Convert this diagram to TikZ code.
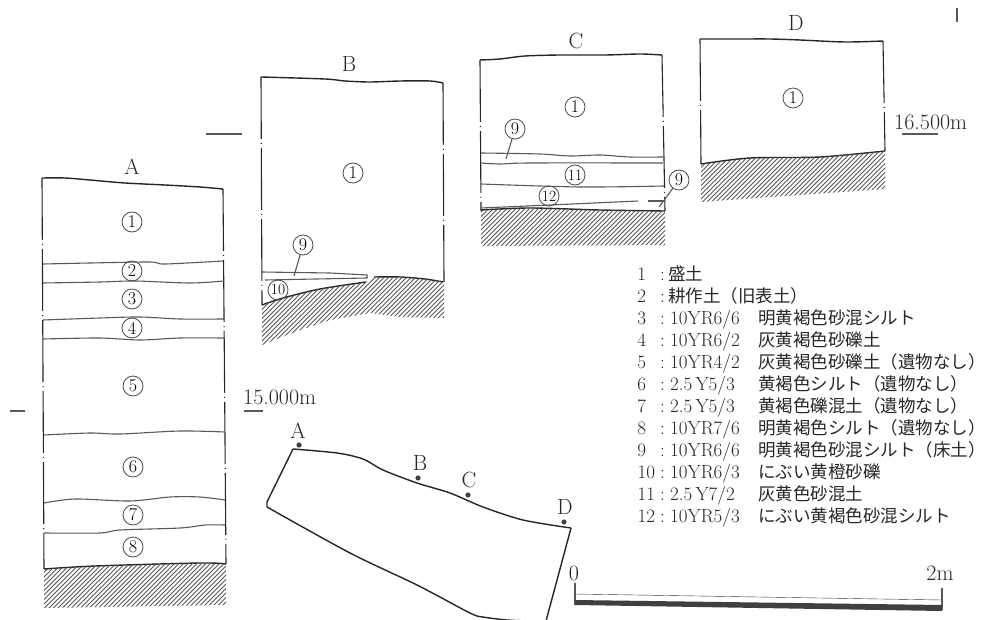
\documentclass[tikz,border=0pt]{standalone}
\usepackage{fontspec}
\usepackage{tikz}
\usetikzlibrary{shapes,positioning,calc}
\newfontfamily\cjk{Noto Sans CJK JP}
\tikzset{
	sideline/.style={black!85,line width=1.1pt,dash pattern=on 62pt off 4pt on 1pt off 4pt},
	groundline/.style={black!85,line width=1.4pt},
	layerline/.style={black!65,line width=1.1pt},
	hatchline/.style={black!65,line width=.8pt},
	layernum/.style={draw=black!70,circle,line width=.8pt,inner sep=0pt,minimum size=20pt,font=\fontsize{18}{18}\selectfont},
	widenum/.style={layernum,font=\fontsize{15.5}{15.5}\selectfont},
	sitelabel/.style={font=\fontsize{22}{22}\selectfont,inner sep=0pt,text=black!85},
	legendtext/.style={font=\fontsize{19}{20}\selectfont,inner sep=0pt,text=black!85}
}
\newcommand{\hatcharea}[1]{
	\begin{scope}
		\clip #1;
		\foreach \h in {0,4.5,...,1300}
			\draw[hatchline] (\h,0) -- (\h-650,650);
	\end{scope}
}
\begin{document}
\begin{tikzpicture}[x=1pt,y=-1pt]
		\useasboundingbox (0,0) rectangle (987,620);

		\draw[sideline] (42,178) -- (44,569);
		\draw[sideline] (223,189) -- (226,564);
		\draw[groundline] plot[smooth] coordinates {(42,178) (65,178) (90,180) (125,183) (165,185) (200,187) (223,189)};
		\draw[layerline] plot[smooth] coordinates {(43,264) (90,263) (150,262) (165,264) (223,261)};
		\draw[layerline] plot[smooth] coordinates {(43,283) (100,282) (135,281) (190,283) (224,281)};
		\draw[layerline] plot[smooth] coordinates {(43,320) (100,318) (140,317) (180,319) (224,319)};
		\draw[layerline] plot[smooth] coordinates {(43,339) (100,338) (140,340) (180,338) (224,338)};
		\draw[layerline] plot[smooth] coordinates {(44,435) (90,433) (120,434) (180,431) (225,432)};
		\draw[layerline] plot[smooth] coordinates {(44,503) (75,499) (130,501) (170,497) (200,497) (225,500)};
		\draw[layerline] plot[smooth] coordinates {(44,533) (100,533) (120,530) (180,528) (205,525) (225,525)};
		\draw[groundline] plot[smooth] coordinates {(44,569) (95,566) (200,563) (226,564)};
		\hatcharea{(44,569) -- (95,566) -- (200,563) -- (226,564) -- (226,605) -- (44,608) -- cycle}

		\node[sitelabel] (siteA) at (132,167) {A};
		\node[layernum] (a1) at (132,222) {1};
		\node[layernum] (a2) at (132,271) {2};
		\node[layernum] (a3) at (132,299) {3};
		\node[layernum] (a4) at (132,328) {4};
		\node[layernum] (a5) at (133,386) {5};
		\node[layernum] (a6) at (133,467) {6};
		\node[layernum] (a7) at (133,515) {7};
		\node[layernum] (a8) at (133,547) {8};

		\draw[sideline] (261,77) -- (262,305);
		\draw[sideline] (443,83) -- (444,282);
		\draw[groundline] plot[smooth] coordinates {(261,77) (325,79) (345,81) (370,82) (400,81) (430,81) (443,83)};
		\draw[layerline] (262,272) -- (330,273) -- (367,275) -- (367,278) -- (265,280);
		\draw[groundline] plot[smooth] coordinates {(262,305) (283,298) (320,289) (366,282)};
		\draw[groundline] plot[smooth] coordinates {(374,277) (400,277) (425,279) (443,282)};
		\hatcharea{(262,305) -- (283,298) -- (320,289) -- (366,282) -- (374,277) -- (400,277) -- (425,279) -- (444,282) -- (444,318) -- (400,317) -- (370,313) -- (330,320) -- (300,330) -- (262,345) -- cycle}

		\node[sitelabel] (siteB) at (349,64) {B};
		\node[layernum] (b1) at (353,173) {1};
		\node[layernum] (b9) at (303,245) {9};
		\node[widenum] (b10) at (278,290) {10};
		\coordinate (b9end) at (294,276);
		\draw[layerline] (b9) -- (b9end);

		\draw[sideline] (480,60) -- (481,211);
		\draw[sideline] (662,55) -- (665,211);
		\draw[groundline] plot[smooth] coordinates {(480,60) (500,59) (525,56) (560,55) (605,55) (640,54) (662,55)};
		\draw[layerline] plot[smooth] coordinates {(481,153) (540,154) (570,156) (600,155) (630,157) (663,157)};
		\draw[layerline] plot[smooth] coordinates {(481,163) (500,164) (530,163) (663,163)};
		\draw[layerline] plot[smooth] coordinates {(481,184) (580,187) (664,186)};
		\draw[layerline] plot[smooth] coordinates {(481,208) (550,205) (638,201)};
		\draw[layerline] (648,201) -- (665,201);
		\draw[groundline] plot[smooth] coordinates {(481,210) (530,208) (600,210) (665,211)};
		\hatcharea{(481,210) -- (530,208) -- (600,210) -- (665,211) -- (665,245) -- (481,246) -- cycle}

		\node[sitelabel] (siteC) at (576,41) {C};
		\node[layernum] (c1) at (575,107) {1};
		\node[layernum] (c9) at (515,129) {9};
		\node[widenum] (c11) at (575,175) {11};
		\node[widenum] (c12) at (549,196) {12};
		\node[layernum] (cc9) at (679,180) {9};
		\coordinate (c9end) at (506,159);
		\coordinate (cc9end) at (659,207);
		\draw[layerline] (c9) -- (c9end);
		\draw[layerline] (cc9) -- (cc9end);

		\draw[sideline] (700,39) -- (701,164);
		\draw[sideline] (883,41) -- (885,151);
		\draw[groundline] plot[smooth] coordinates {(700,39) (740,39) (770,39) (800,40) (845,42) (883,41)};
		\draw[groundline] plot[smooth] coordinates {(701,164) (750,158) (820,157) (885,151)};
		\hatcharea{(701,164) -- (750,158) -- (820,157) -- (885,151) -- (885,189) -- (701,202) -- cycle}

		\node[sitelabel] (siteD) at (796,23) {D};
		\node[layernum] (d1) at (793,98) {1};

		\node[sitelabel,anchor=base west] (levelhigh) at (894,130) {16.500m};
		\node[sitelabel,anchor=base west] (levellow) at (243,404) {15.000m};
		\draw[layerline] (902,134) -- (938,134);
		\draw[layerline] (244,411) -- (263,411);
		\draw[layerline] (10,411) -- (25,411);
		\draw[layerline] (206,134) -- (242,134);
		\draw[layerline] (957,8) -- (957,22);

		\draw[groundline] plot[smooth] coordinates {(293,449) (337,453) (363,459) (383,470) (417,483) (450,493) (483,507) (523,520) (571,528)};
		\draw[groundline] (571,528) -- (546,621);
		\draw[groundline] plot[smooth] coordinates {(267,507) (350,553) (417,585) (470,613) (483,617) (507,620) (530,621)};
		\draw[groundline,line join=round] (293,449) -- (267,502) -- (267,507);
		\foreach \name/\dotx/\doty/\labx/\laby in {A/299/445/298/431,B/418/478/420/463,C/468/495/469/480,D/564/522/565/507} {
			\node[sitelabel] (plan\name) at (\labx,\laby) {\name};
			\fill[black!75] (\dotx,\doty) circle (2.6pt);
		}

		\node[sitelabel] (zero) at (574,573) {0};
		\node[sitelabel] (twom) at (940,573) {2m};
		\draw[layerline] (575,583) -- (575,605);
		\draw[layerline] (942,588) -- (942,610);
		\draw[black!80] (575,594) -- (942,600);
		\fill[black!75] (575,600) -- (942,605) -- (942,611) -- (575,605) -- cycle;

		\foreach \num/\code/\soil [count=\i] in {
			1//盛土,
			2//耕作土（旧表土）,
			3/10YR6\slash 6/明黄褐色砂混シルト,
			4/10YR6\slash 2/灰黄褐色砂礫土,
			5/10YR4\slash 2/灰黄褐色砂礫土（遺物なし）,
			6/2.5\,Y5\slash 3/黄褐色シルト（遺物なし）,
			7/2.5\,Y5\slash 3/黄褐色礫混土（遺物なし）,
			8/10YR7\slash 6/明黄褐色シルト（遺物なし）,
			9/10YR6\slash 6/明黄褐色砂混シルト（床土）,
			10/10YR6\slash 3/にぶい黄橙砂礫,
			11/2.5\,Y7\slash 2/灰黄色砂混土,
			12/10YR5\slash 3/にぶい黄褐色砂混シルト} {
			\pgfmathsetmacro{\rowy}{280+22*(\i-1)}
			\ifnum\i<10 \def\numgap{14pt}\else\def\numgap{5pt}\fi
			\node[legendtext,anchor=base east] (num\i) at (665,\rowy) {\num\hspace{\numgap}:};
			\ifnum\i<3
				\node[legendtext,anchor=base west] (soil\i) at (668,\rowy) {\cjk\fontsize{17.5}{20}\selectfont\soil};
			\else
				\node[legendtext,anchor=base west] (code\i) at (670,\rowy) {\code};
				\node[legendtext,anchor=base west] (soil\i) at (758,\rowy) {\cjk\fontsize{17.5}{20}\selectfont\soil};
			\fi
		}

	\end{tikzpicture}
\end{document}
